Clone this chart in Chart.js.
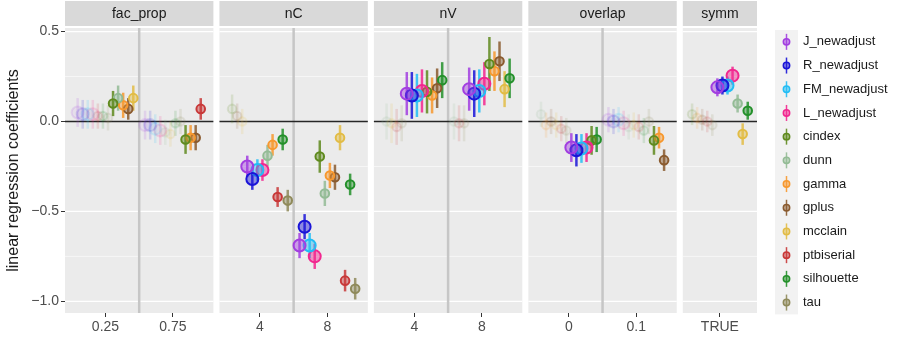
<!DOCTYPE html>
<html>
<head>
<meta charset="utf-8">
<script src="https://cdn.jsdelivr.net/npm/chart.js@4.4.1/dist/chart.umd.min.js"></script>
<style>
  html, body { margin: 0; padding: 0; background: #fff; }
</style>
</head>
<body>
<canvas id="chart" width="898" height="338"></canvas>
<script>
// ---- data ----
const methods = ['J_newadjust', 'R_newadjust', 'FM_newadjust', 'L_newadjust', 'cindex', 'dunn',
  'gamma', 'gplus', 'mcclain', 'ptbiserial', 'silhouette', 'tau'];
const panels = ['fac_prop', 'nC', 'nV', 'overlap', 'symm'];
const panelCats = [['0.25', '0.75'], ['4', '8'], ['4', '8'], ['0', '0.1'], ['TRUE']];
const yBreaks = [-1, -0.5, 0, 0.5];
const yMinor = [-0.75, -0.25, 0.25];

// columns: fac_prop 0.25, 0.75 | nC 4, 8 | nV 4, 8 | overlap 0, 0.1 | symm TRUE
const coef = [
  [0.05, -0.02, -0.25, -0.69, 0.155, 0.18, -0.145, 0.01, 0.19],    // J_newadjust
  [0.04, -0.02, -0.32, -0.585, 0.145, 0.155, -0.16, 0.0, 0.20],    // R_newadjust
  [0.04, -0.04, -0.27, -0.69, 0.145, 0.17, -0.15, 0.01, 0.20],     // FM_newadjust
  [0.04, -0.05, -0.27, -0.75, 0.17, 0.21, -0.145, -0.01, 0.255],   // L_newadjust
  [0.10, -0.10, 0.07, -0.195, 0.165, 0.32, -0.105, -0.105, 0.04],  // cindex
  [0.13, -0.06, -0.19, -0.40, 0.0, 0.0, 0.04, -0.03, 0.10],        // dunn
  [0.09, -0.09, -0.13, -0.30, 0.145, 0.28, -0.02, -0.09, 0.02],    // gamma
  [0.07, -0.09, 0.03, -0.31, 0.185, 0.335, 0.0, -0.215, 0.01],     // gplus
  [0.13, -0.07, 0.0, -0.09, -0.01, 0.18, -0.02, -0.02, -0.07],     // mcclain
  [0.03, 0.07, -0.42, -0.885, -0.03, -0.01, -0.04, -0.03, 0.0],    // ptbiserial
  [0.03, -0.01, -0.10, -0.35, 0.23, 0.24, -0.10, -0.05, 0.06],     // silhouette
  [0.02, 0.0, -0.44, -0.93, -0.01, -0.01, -0.05, 0.0, -0.02]       // tau
];
// half width of the interval
const halfCI = [
  [0.08, 0.08, 0.06, 0.07, 0.12, 0.12, 0.08, 0.07, 0.05],
  [0.08, 0.08, 0.06, 0.07, 0.13, 0.13, 0.09, 0.07, 0.05],
  [0.08, 0.08, 0.06, 0.07, 0.12, 0.12, 0.08, 0.07, 0.05],
  [0.08, 0.08, 0.06, 0.07, 0.12, 0.12, 0.08, 0.07, 0.05],
  [0.07, 0.08, 0.08, 0.09, 0.12, 0.15, 0.08, 0.08, 0.06],
  [0.07, 0.07, 0.06, 0.07, 0.10, 0.10, 0.07, 0.07, 0.05],
  [0.07, 0.07, 0.06, 0.07, 0.10, 0.11, 0.07, 0.06, 0.06],
  [0.06, 0.07, 0.07, 0.07, 0.11, 0.11, 0.07, 0.06, 0.06],
  [0.07, 0.07, 0.07, 0.07, 0.11, 0.10, 0.07, 0.07, 0.06],
  [0.07, 0.06, 0.055, 0.06, 0.10, 0.10, 0.07, 0.07, 0.06],
  [0.07, 0.07, 0.06, 0.06, 0.10, 0.11, 0.07, 0.07, 0.05],
  [0.07, 0.07, 0.06, 0.06, 0.10, 0.10, 0.07, 0.07, 0.06]
];
// 1 = significant (drawn solid), 0 = faded
const signif = [
  [0, 0, 1, 1, 1, 1, 1, 0, 1],
  [0, 0, 1, 1, 1, 1, 1, 0, 1],
  [0, 0, 1, 1, 1, 1, 1, 0, 1],
  [0, 0, 1, 1, 1, 1, 1, 0, 1],
  [1, 1, 0, 1, 1, 1, 1, 1, 0],
  [1, 0, 1, 1, 0, 0, 0, 0, 1],
  [1, 1, 1, 1, 1, 1, 0, 1, 0],
  [1, 1, 0, 1, 1, 1, 0, 1, 0],
  [1, 0, 0, 1, 0, 1, 0, 0, 1],
  [0, 1, 1, 1, 0, 0, 0, 0, 0],
  [0, 0, 1, 1, 1, 1, 1, 0, 1],
  [0, 0, 1, 1, 0, 0, 0, 0, 0]
];

// ---- style ----
const colors = ['#a23ee0', '#1a14d8', '#22bdf5', '#f2268f', '#5f8a1e', '#93bb95',
  '#f7982e', '#8a5a2e', '#e2bc45', '#c83838', '#23902a', '#8f8a5a'];
const pointSize = [6, 6, 6, 6, 4.3, 4.3, 4.3, 4.3, 4.3, 4.3, 4.3, 4.3];
const FONT = '"Liberation Sans", Arial, sans-serif';
const GAP = 0.09;        // space between panels, in x units
const DODGE = 0.9;       // dodge width
const panelExpand = [0.6, 0.6, 0.6, 0.6, 0.55];

function rgba(hex, a) {
  const n = parseInt(hex.slice(1), 16);
  return 'rgba(' + (n >> 16) + ',' + ((n >> 8) & 255) + ',' + (n & 255) + ',' + a + ')';
}

// x layout of facets on one linear axis
const panelStart = [];
const panelWidth = [];
let acc = 0;
panels.forEach((p, i) => {
  panelStart.push(acc);
  panelWidth.push(panelCats[i].length - 1 + 2 * panelExpand[i]);
  acc += panelWidth[i] + GAP;
});
const xMax = acc - GAP;

const columns = [];
panels.forEach((p, i) => panelCats[i].forEach((c, j) => columns.push({ panel: i, cat: j })));
const tickLabels = panelCats.flat();

function catX(ci) {
  const c = columns[ci];
  return panelStart[c.panel] + panelExpand[c.panel] + c.cat;
}

// ggplot-like dodge: faded ones first, then significant, each in legend order
function dodgeX(mi, ci) {
  const order = methods.map((m, i) => i).filter(i => !signif[i][ci])
    .concat(methods.map((m, i) => i).filter(i => signif[i][ci]));
  const k = order.indexOf(mi);
  return catX(ci) + (k - (methods.length - 1) / 2) * DODGE / methods.length;
}

const datasets = methods.map((m, mi) => ({
  label: m,
  data: columns.map((c, ci) => ({ x: dodgeX(mi, ci), y: coef[mi][ci] })),
  pointRadius: pointSize[mi],
  pointBorderWidth: 2,
  pointBackgroundColor: columns.map((c, ci) => rgba(colors[mi], signif[mi][ci] ? 0.45 : 0.07)),
  pointBorderColor: columns.map((c, ci) => rgba(colors[mi], signif[mi][ci] ? 1 : 0.14)),
  showLine: false
}));

// panel backgrounds, grid, strips
const panelPlugin = {
  id: 'panels',
  beforeDraw(chart) {
    const { ctx, chartArea: a, scales: { x, y } } = chart;
    ctx.save();
    panels.forEach((name, i) => {
      const x0 = x.getPixelForValue(panelStart[i]);
      const x1 = x.getPixelForValue(panelStart[i] + panelWidth[i]);
      ctx.fillStyle = '#ebebeb';
      ctx.fillRect(x0, a.top, x1 - x0, a.bottom - a.top);
      ctx.strokeStyle = '#ffffff';
      ctx.lineWidth = 0.6;
      yMinor.forEach(v => {
        const py = y.getPixelForValue(v);
        ctx.beginPath(); ctx.moveTo(x0, py); ctx.lineTo(x1, py); ctx.stroke();
      });
      ctx.lineWidth = 1.2;
      yBreaks.forEach(v => {
        const py = y.getPixelForValue(v);
        ctx.beginPath(); ctx.moveTo(x0, py); ctx.lineTo(x1, py); ctx.stroke();
      });
      if (panelCats[i].length > 1) {
        const px = x.getPixelForValue(panelStart[i] + panelExpand[i] + 0.5);
        ctx.strokeStyle = '#c6c6c6';
        ctx.lineWidth = 2.5;
        ctx.beginPath(); ctx.moveTo(px, a.top); ctx.lineTo(px, a.bottom); ctx.stroke();
      }
      const p0 = y.getPixelForValue(0);
      ctx.strokeStyle = '#262626';
      ctx.lineWidth = 1.3;
      ctx.beginPath(); ctx.moveTo(x0, p0); ctx.lineTo(x1, p0); ctx.stroke();
      // strip
      ctx.fillStyle = '#d9d9d9';
      ctx.fillRect(x0, 1, x1 - x0, a.top - 3);
      ctx.fillStyle = '#1a1a1a';
      ctx.font = '14px ' + FONT;
      ctx.textAlign = 'center';
      ctx.textBaseline = 'middle';
      ctx.fillText(name, (x0 + x1) / 2, (a.top - 2) / 2 + 1);
    });
    ctx.restore();
  },
  beforeDatasetsDraw(chart) {
    const { ctx, scales: { x, y } } = chart;
    ctx.save();
    ctx.lineWidth = 2.5;
    methods.forEach((m, mi) => {
      columns.forEach((c, ci) => {
        const px = x.getPixelForValue(dodgeX(mi, ci));
        const v = coef[mi][ci], h = halfCI[mi][ci];
        ctx.strokeStyle = rgba(colors[mi], signif[mi][ci] ? 0.85 : 0.15);
        ctx.beginPath();
        ctx.moveTo(px, y.getPixelForValue(v - h));
        ctx.lineTo(px, y.getPixelForValue(v + h));
        ctx.stroke();
      });
    });
    ctx.restore();
  },
  afterDraw(chart) {
    const { ctx } = chart;
    const top = 30, rowH = 23.7, keyX = 775, keyW = 23;
    ctx.save();
    ctx.fillStyle = '#f2f2f2';
    ctx.fillRect(keyX, top, keyW, rowH * methods.length);
    methods.forEach((m, mi) => {
      const cy = top + rowH * (mi + 0.5);
      const cx = keyX + keyW / 2;
      ctx.strokeStyle = rgba(colors[mi], 0.9);
      ctx.lineWidth = 1.5;
      ctx.beginPath(); ctx.moveTo(cx, cy - 8); ctx.lineTo(cx, cy + 8); ctx.stroke();
      ctx.beginPath(); ctx.arc(cx, cy, 3.2, 0, Math.PI * 2);
      ctx.fillStyle = rgba(colors[mi], 0.5); ctx.fill();
      ctx.strokeStyle = colors[mi]; ctx.stroke();
      ctx.fillStyle = '#1a1a1a';
      ctx.font = '13px ' + FONT;
      ctx.textAlign = 'left';
      ctx.textBaseline = 'middle';
      ctx.fillText(m, keyX + keyW + 5, cy);
    });
    ctx.restore();
  }
};

new Chart(document.getElementById('chart'), {
  type: 'scatter',
  data: { datasets },
  plugins: [panelPlugin],
  options: {
    responsive: false,
    animation: false,
    layout: { padding: { top: 28, right: 141, left: 0, bottom: 0 } },
    plugins: { legend: { display: false }, tooltip: { enabled: false } },
    scales: {
      x: {
        type: 'linear', min: 0, max: xMax,
        afterBuildTicks: s => { s.ticks = columns.map((c, ci) => ({ value: catX(ci) })); },
        afterFit: s => { s.height = 25; },
        ticks: {
          autoSkip: false, maxRotation: 0, padding: 2, color: '#4d4d4d',
          font: { family: FONT, size: 14 },
          callback: (v, i) => tickLabels[i]
        },
        grid: { drawOnChartArea: false, tickLength: 4, tickColor: '#333' },
        border: { display: false }
      },
      y: {
        min: -1.065, max: 0.52,
        afterBuildTicks: s => { s.ticks = yBreaks.map(v => ({ value: v })); },
        afterFit: s => { s.width = 65; },
        ticks: {
          padding: 2, color: '#4d4d4d', font: { family: FONT, size: 14 },
          callback: v => (v < 0 ? '\u2212' : '') + Math.abs(v).toFixed(1)
        },
        title: {
          display: true, text: 'linear regression coefficients', color: '#1a1a1a',
          font: { family: FONT, size: 16 }, padding: { top: 4, bottom: 0 }
        },
        grid: { drawOnChartArea: false, tickLength: 4, tickColor: '#333' },
        border: { display: false }
      }
    }
  }
});
</script>
</body>
</html>
